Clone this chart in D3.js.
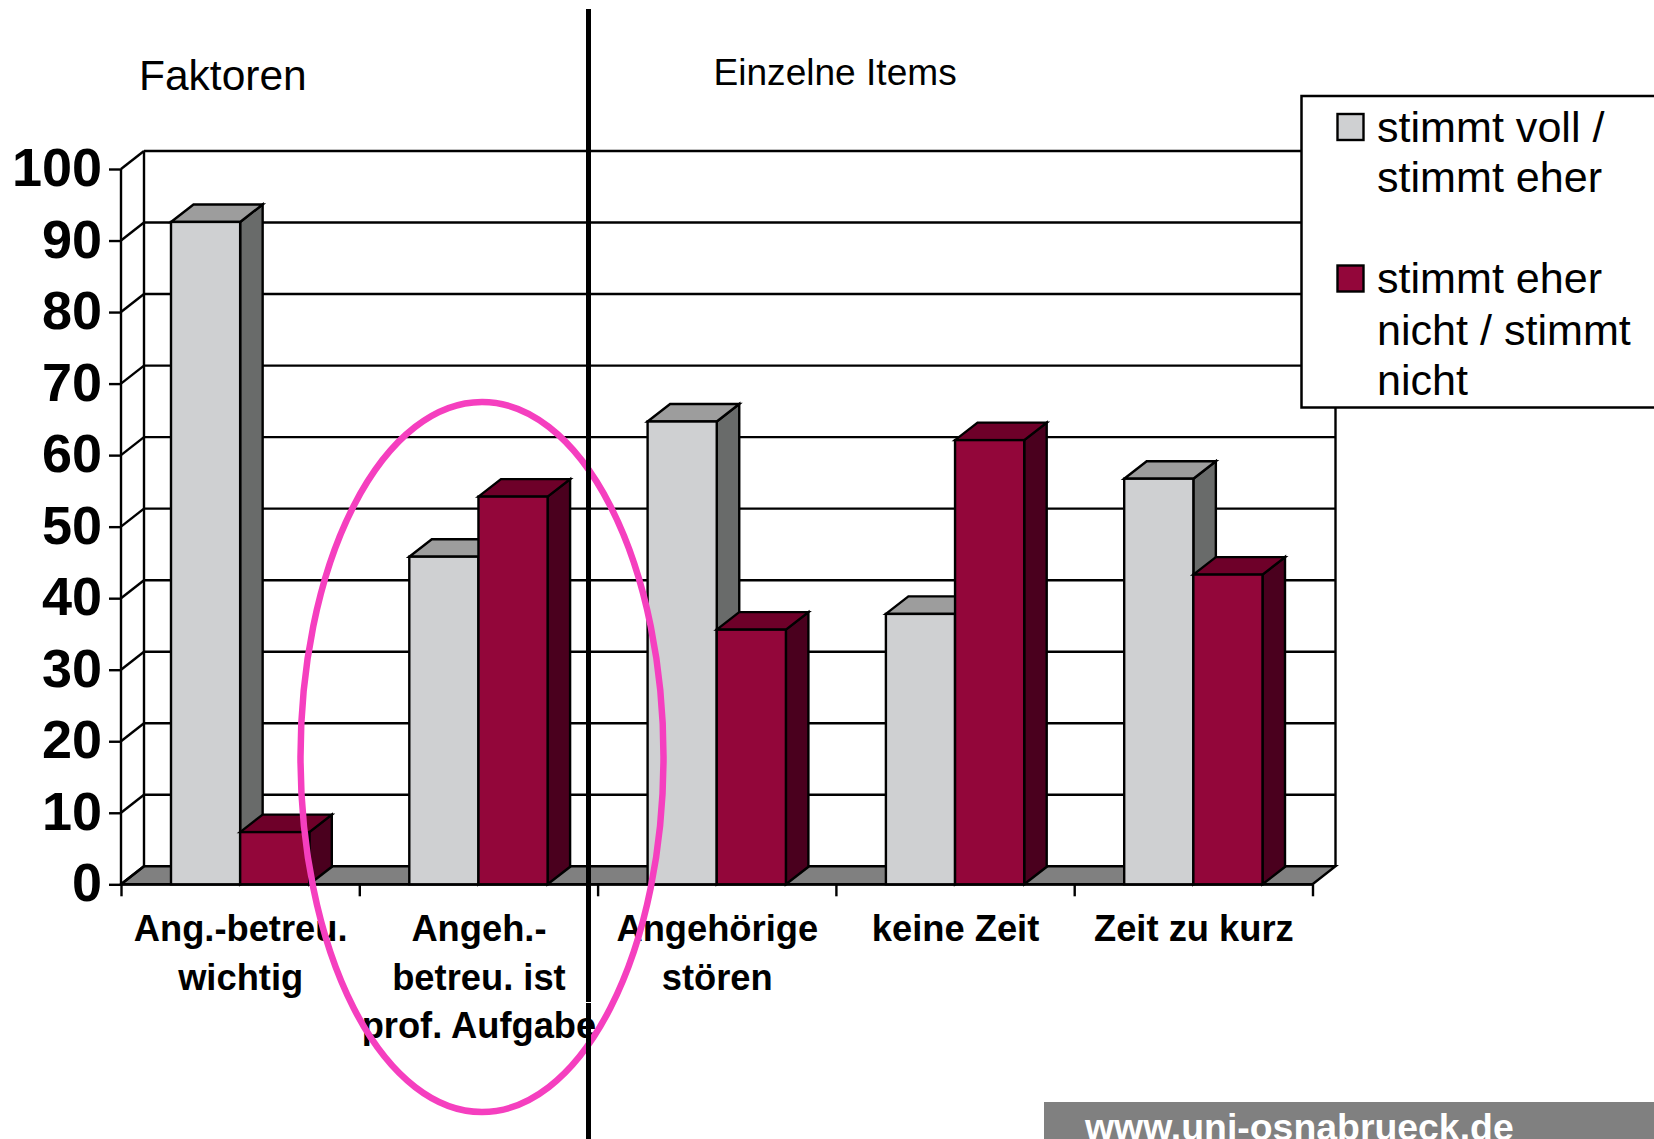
<!DOCTYPE html>
<html><head><meta charset="utf-8">
<script src="https://d3js.org/d3.v7.min.js"></script>
<style>html,body{margin:0;padding:0;background:#fff;overflow:hidden}text{font-family:"Liberation Sans",Arial,sans-serif;fill:#000}</style>
</head><body><svg id="c" width="1654" height="1139"></svg>
<script>
const categories=[["Ang.-betreu.","wichtig"],["Angeh.-","betreu. ist","prof. Aufgabe"],["Angehörige","stören"],["keine Zeit"],["Zeit zu kurz"]];
const agree=[92.6,45.8,64.7,37.8,56.7];
const disagree=[7.3,54.2,35.6,62.1,43.3];
const yTicks=[0,10,20,30,40,50,60,70,80,90,100];
const legendA=["stimmt voll /","stimmt eher"];
const legendB=["stimmt eher","nicht / stimmt","nicht"];

const svg=d3.select("#c");
const y=d3.scaleLinear().domain([0,100]).range([884.3,169]);
const x=d3.scaleBand().domain(d3.range(categories.length)).range([121,1312.5]).paddingInner(0).paddingOuter(0);
const dx=23,dy=18,barDx=22.5,barDy=17.5,groupPad=50;
const x1=d3.scaleBand().domain([0,1]).range([groupPad,x.bandwidth()-groupPad]);
const L=x.range()[0],R=x.range()[1],Y0=y(0),Y100=y(100);
const poly=(g,pts,fill)=>g.append("polygon").attr("points",pts.map(p=>p.join(",")).join(" ")).attr("fill",fill).attr("stroke","#000").attr("stroke-width",2.4);

// floor and walls
const wall=svg.append("g");
poly(wall,[[L,Y0],[L+dx,Y0-dy],[R+dx,Y0-dy],[R,Y0]],"#808080");
const line=(g,a,b,w)=>g.append("line").attr("x1",a[0]).attr("y1",a[1]).attr("x2",b[0]).attr("y2",b[1]).attr("stroke","#000").attr("stroke-width",w||2.4);
yTicks.forEach(t=>{
  if(t>0) line(wall,[L+dx,y(t)-dy],[R+dx,y(t)-dy]);
  line(wall,[L,y(t)],[L+dx,y(t)-dy]);
});
line(wall,[L,Y0],[L,Y100]);
line(wall,[L+dx,Y0-dy],[L+dx,Y100-dy]);
line(wall,[R+dx,Y0-dy],[R+dx,Y100-dy]);

// axes
const ay=d3.axisLeft(y).tickValues(yTicks).tickSize(12).tickPadding(7);
const gy=svg.append("g").attr("transform",`translate(${L},0)`).call(ay);
gy.select(".domain").remove();
gy.selectAll(".tick line").attr("stroke","#000").attr("stroke-width",2.4);
gy.selectAll("text").style("font-family",'"Liberation Sans",Arial,sans-serif').style("font-size","54px").style("font-weight","700").attr("fill","#000").attr("dy","16.5px");

const edge=d3.scaleLinear().domain([0,categories.length]).range([L,R]);
const ax=d3.axisBottom(edge).tickValues(d3.range(categories.length+1)).tickSize(12).tickFormat("");
const gx=svg.append("g").attr("transform",`translate(0,${Y0})`).call(ax);
gx.select(".domain").attr("stroke","#000").attr("stroke-width",2.8).attr("d",`M${L},0H${R}`);
gx.selectAll(".tick line").attr("stroke","#000").attr("stroke-width",2.4);

// bars
const bar3d=(g,bx,v,c)=>{
  const w=x1.bandwidth(),t=y(v);
  poly(g,[[bx+w,t],[bx+w+barDx,t-barDy],[bx+w+barDx,Y0-barDy],[bx+w,Y0]],c[1]);
  poly(g,[[bx,t],[bx+barDx,t-barDy],[bx+w+barDx,t-barDy],[bx+w,t]],c[2]);
  g.append("rect").attr("x",bx).attr("y",t).attr("width",w).attr("height",Y0-t).attr("fill",c[0]).attr("stroke","#000").attr("stroke-width",2.4);
};
const gray=["#cfd0d2","#696b6a","#9d9d9d"],wine=["#93063a","#4a001e","#6e0029"];
const bars=svg.append("g");
categories.forEach((_,i)=>{
  const g=bars.append("g").attr("transform",`translate(${x(i)},0)`);
  bar3d(g,x1(0),agree[i],gray);
  bar3d(g,x1(1),disagree[i],wine);
});

// category labels
const catBase=[940.7,990,1037.5];
const lab=svg.append("g");
categories.forEach((lines,i)=>{
  lines.forEach((s,j)=>lab.append("text").attr("x",x(i)+x.bandwidth()/2+0.5).attr("y",catBase[j]).attr("text-anchor","middle").attr("font-size",36.3).attr("font-weight",700).text(s));
});

// titles
svg.append("text").attr("x",139).attr("y",90).attr("font-size",42.5).text("Faktoren");
svg.append("text").attr("x",713.5).attr("y",85).attr("font-size",37.1).text("Einzelne Items");

// legend
svg.append("rect").attr("x",1301.5).attr("y",96).attr("width",380).attr("height",311.5).attr("fill","#fff").attr("stroke","#000").attr("stroke-width",2.5);
svg.append("rect").attr("x",1337.5).attr("y",114).attr("width",26).attr("height",26).attr("fill",gray[0]).attr("stroke","#000").attr("stroke-width",2.4);
svg.append("rect").attr("x",1337.5).attr("y",265.5).attr("width",26).attr("height",26).attr("fill",wine[0]).attr("stroke","#000").attr("stroke-width",2.4);
const baseA=[142,192],baseB=[293,344.5,394.5];
legendA.forEach((s,i)=>svg.append("text").attr("x",1377).attr("y",baseA[i]).attr("font-size",43.1).text(s));
legendB.forEach((s,i)=>svg.append("text").attr("x",1377).attr("y",baseB[i]).attr("font-size",43.1).text(s));

// annotations
svg.append("ellipse").attr("cx",482).attr("cy",757).attr("rx",181.5).attr("ry",355).attr("fill","none").attr("stroke","#f53fbf").attr("stroke-width",6.5);
svg.append("line").attr("x1",588.5).attr("x2",588.5).attr("y1",9).attr("y2",1139).attr("stroke","#000").attr("stroke-width",5);
svg.append("line").attr("x1",586).attr("x2",591).attr("y1",1002.5).attr("y2",1002.5).attr("stroke","#fff").attr("stroke-width",1);

// footer
svg.append("rect").attr("x",1044).attr("y",1102).attr("width",610).attr("height",37).attr("fill","#808080");
svg.append("text").attr("x",1085).attr("y",1140).attr("font-size",37.4).attr("font-weight",700).style("fill","#fff").text("www.uni-osnabrueck.de");
</script></body></html>
